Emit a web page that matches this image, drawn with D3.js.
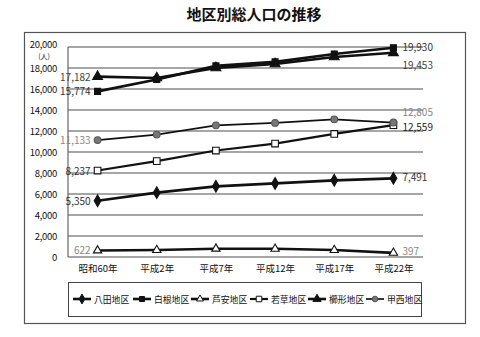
<!DOCTYPE html>
<html><head><meta charset="utf-8">
<script src="https://cdn.jsdelivr.net/npm/d3@7"></script>
<style>
html,body{margin:0;padding:0;background:#fff;}
text{font-family:"Noto Sans CJK JP","Noto Sans",sans-serif;}
</style></head>
<body><svg id="c" width="480" height="337"></svg>
<script>
const title = "地区別総人口の推移";
const categories = ["昭和60年","平成2年","平成7年","平成12年","平成17年","平成22年"];
const yTicks = [0,2000,4000,6000,8000,10000,12000,14000,16000,18000,20000];
const yUnit = "(人)";
const names = ["八田地区","白根地区","芦安地区","若草地区","櫛形地区","甲西地区"];
const hatta   = [5350, 6130, 6730, 7010, 7300, 7491];
const shirane = [15774, 16900, 18200, 18580, 19340, 19930];
const ashiyasu= [622, 660, 790, 780, 660, 397];
const wakakusa= [8237, 9130, 10140, 10800, 11720, 12559];
const kushigata=[17182, 17050, 18010, 18390, 19050, 19453];
const kosai   = [11133, 11660, 12540, 12770, 13110, 12805];
const seriesValues = [hatta, shirane, ashiyasu, wakakusa, kushigata, kosai];
const endLabels = ["5,350","15,774","622","8,237","17,182","11,133"];
const finalLabels = ["7,491","19,930","397","12,559","19,453","12,805"];

const svg = d3.select("#c");
const styles = [
  {sym:d3.symbolDiamond, size:40, fill:"#111", stroke:"#111", lw:2.6, lab:"#333"},
  {sym:d3.symbolSquare, size:36, fill:"#111", stroke:"#111", lw:2.6, lab:"#333"},
  {sym:d3.symbolTriangle, size:30, fill:"#fff", stroke:"#111", lw:2.6, lab:"#888"},
  {sym:d3.symbolSquare, size:44, fill:"#fff", stroke:"#111", lw:2.2, lab:"#333"},
  {sym:d3.symbolTriangle, size:42, fill:"#111", stroke:"#111", lw:2.6, lab:"#444"},
  {sym:d3.symbolCircle, size:36, fill:"#777", stroke:"#555", lw:1.7, lab:"#888"}
];

// outer frame
svg.append("rect").attr("x",24.5).attr("y",32.5).attr("width",441).attr("height",291)
  .attr("fill","none").attr("stroke","#555").attr("stroke-width",1.2);

svg.append("text").attr("x",254).attr("y",20).attr("text-anchor","middle")
  .attr("font-size",15).attr("font-weight","bold").attr("fill","#111").text(title);

const x = d3.scalePoint().domain(categories).range([68,423]).padding(0.5);
const y = d3.scaleLinear().domain([0,20000]).range([257,47]);

// grid
svg.append("g").selectAll("line").data(yTicks).join("line")
  .attr("x1",68).attr("x2",423).attr("y1",d=>y(d)).attr("y2",d=>y(d))
  .attr("stroke","#888").attr("stroke-width",1.3);
svg.append("line").attr("x1",68).attr("x2",68).attr("y1",y(20000)).attr("y2",y(0))
  .attr("stroke","#666").attr("stroke-width",1.2);

// y axis
const ya = svg.append("g").attr("transform","translate(59,0)")
  .call(d3.axisLeft(y).tickValues(yTicks).tickSize(0).tickPadding(2).tickFormat(d3.format(",")));
ya.select(".domain").remove();
ya.selectAll("text").attr("font-size",9.5).attr("fill","#111").attr("font-family","'Liberation Sans',Arial,sans-serif").attr("letter-spacing","-0.3");
ya.selectAll(".tick").filter(d=>d===20000).select("text").attr("dy","0.1em");
svg.append("text").attr("x",44).attr("y",y(20000)+11.5).attr("text-anchor","middle")
  .attr("font-size",7).attr("fill","#222").text(yUnit);

// x axis
const xa = svg.append("g").attr("transform","translate(0,257)")
  .call(d3.axisBottom(x).tickSize(0).tickPadding(8));
xa.select(".domain").remove();
xa.selectAll("text").attr("font-size",9.5).attr("fill","#111");

// series
const line = d3.line().x((d,i)=>x(categories[i])).y(d=>y(d));
seriesValues.forEach((vals,k)=>{
  const s = styles[k];
  svg.append("path").datum(vals).attr("d",line).attr("fill","none")
    .attr("stroke","#111").attr("stroke-width",s.lw);
  svg.append("g").selectAll("path").data(vals).join("path")
    .attr("transform",(d,i)=>`translate(${x(categories[i])},${y(d)})`)
    .attr("d",d3.symbol().type(s.sym).size(s.size))
    .attr("fill",s.fill).attr("stroke",s.stroke).attr("stroke-width",1.1);
  svg.append("text").attr("x",x(categories[0])-7).attr("y",y(vals[0])+4)
    .attr("text-anchor","end").attr("font-size",10).attr("fill",s.lab)
    .attr("font-family","'Liberation Sans',Arial,sans-serif").text(endLabels[k]);
});
// final labels
const finalOffsets = [3, 3, 2, 6, 16, -7];
seriesValues.forEach((vals,k)=>{
  const s = styles[k];
  svg.append("text").attr("x",x(categories[5])+9).attr("y",y(vals[5])+finalOffsets[k])
    .attr("font-size",10).attr("fill",k===3?"#222":s.lab)
    .attr("font-family","'Liberation Sans',Arial,sans-serif").text(finalLabels[k]);
});

// legend
svg.append("rect").attr("x",68.5).attr("y",282.5).attr("width",353).attr("height",34)
  .attr("fill","#fff").attr("stroke","#444").attr("stroke-width",1);
const legX = [73,133,191,250,308,366];
names.forEach((n,k)=>{
  const s = styles[k], lx = legX[k], ly = 299;
  svg.append("line").attr("x1",lx).attr("x2",lx+18).attr("y1",ly).attr("y2",ly)
    .attr("stroke","#111").attr("stroke-width",s.lw);
  svg.append("path").attr("transform",`translate(${lx+9},${ly})`)
    .attr("d",d3.symbol().type(s.sym).size(s.size*0.7))
    .attr("fill",s.fill).attr("stroke",s.stroke).attr("stroke-width",1);
  svg.append("text").attr("x",lx+21).attr("y",ly+3.5).attr("font-size",8.8)
    .attr("fill","#111").text(n);
});
</script></body></html>
